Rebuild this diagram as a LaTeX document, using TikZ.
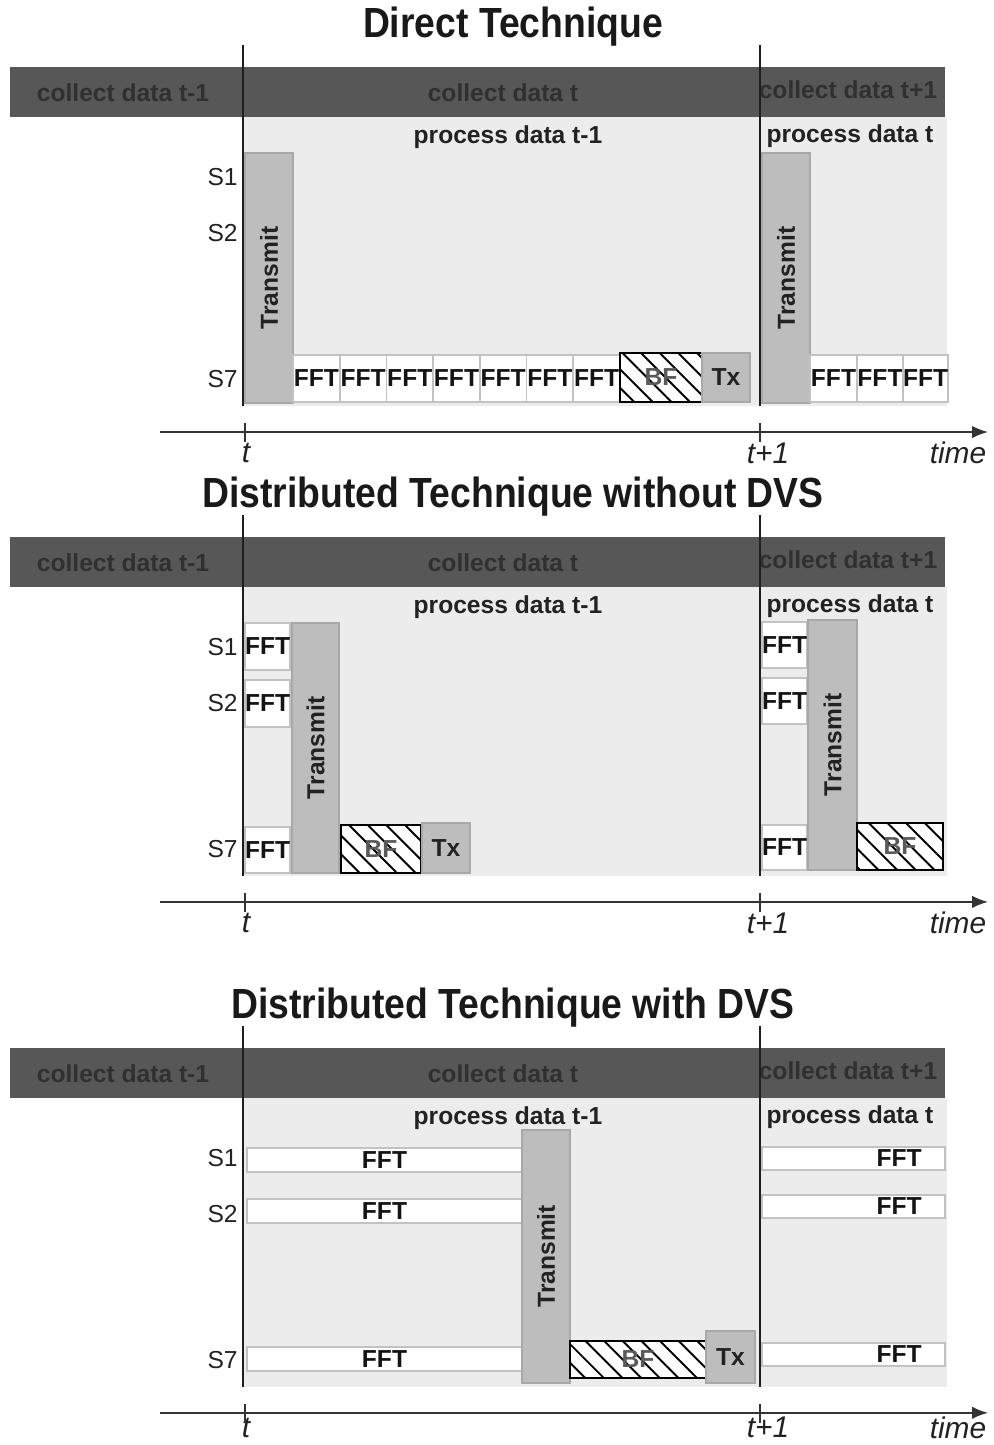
\documentclass[tikz,border=0pt]{standalone}
\usepackage{fontspec}
\setmainfont{Liberation Sans}
\usepackage{graphicx}
\usetikzlibrary{arrows.meta,patterns.meta}
\definecolor{bardark}{HTML}{575757}
\definecolor{bartxt}{HTML}{303030}
\definecolor{lightbg}{HTML}{ECECEC}
\definecolor{trfill}{HTML}{BDBDBD}
\definecolor{trdraw}{HTML}{A8A8A8}
\definecolor{fftdraw}{HTML}{C2C2C2}
\definecolor{inktxt}{HTML}{222222}
\tikzset{
  bx/.style={anchor=north west, inner sep=0pt, outer sep=0pt},
  boldf/.style={font=\bfseries\fontsize{14}{16}\selectfont},
  barbox/.style={bx, fill=bardark},
  lightbox/.style={bx, fill=lightbg},
  fftbox/.style={bx, boldf, fill=white, draw=fftdraw, line width=1pt, text=black!92},
  trbox/.style={bx, boldf, fill=trfill, draw=trdraw, line width=1pt, text=inktxt},
  bfbox/.style={bx, boldf, preaction={fill=white}, pattern={Lines[angle=135,distance=7.5pt,line width=1.1pt]}, draw=black, line width=1.4pt, text=black!65},
  bartext/.style={boldf, text=bartxt, inner sep=0pt},
  proctext/.style={boldf, text=inktxt, inner sep=0pt},
  slabel/.style={font=\fontsize{14}{16}\selectfont, text=inktxt, anchor=east, inner sep=0pt},
  fftlabel/.style={boldf, text=black!92, inner sep=0pt},
  titletext/.style={font=\bfseries\fontsize{24}{28}\selectfont, text=black!90, inner sep=0pt},
  axislabel/.style={font=\itshape\fontsize{17}{20}\selectfont, text=inktxt, inner sep=0pt},
  vline/.style={line width=1.4pt, draw=black!88},
  axisline/.style={line width=0.9pt, draw=black!80, -{Latex[length=9pt,width=7pt]}},
  tickline/.style={line width=0.7pt, draw=black!80}
}
\newcommand{\boxnode}[7]{\node[#2, minimum width={(#5-#3)*0.02cm}, minimum height={(#6-#4)*0.02cm}] (#1) at (#3,#4) {#7};}
% #1 prefix, #2 title, #3 axis-label y
\newcommand{\panelbase}[3]{%
  \node[titletext] (#1title) at (513,27) {\scalebox{0.885}[1]{#2}};
  \boxnode{#1bar}{barbox}{10}{67}{945}{117}{}
  \boxnode{#1light}{lightbox}{243}{117}{947}{406}{}
  \node[bartext] (#1ca) at (123,93) {collect data t-1};
  \node[bartext] (#1cb) at (503,93) {collect data t};
  \node[bartext] (#1cc) at (848,90) {collect data t+1};
  \node[proctext] (#1pa) at (508,137) {process data t-1};
  \node[proctext] (#1pb) at (850,136) {process data t};
  \node[slabel] (#1s1) at (238,177) {S1};
  \node[slabel] (#1s2) at (238,233) {S2};
  \node[slabel] (#1s7) at (238,379) {S7};
  \coordinate (#1va) at (243,45);
  \coordinate (#1vb) at (243,406);
  \coordinate (#1vc) at (760,45);
  \coordinate (#1vd) at (760,406);
  \coordinate (#1ax0) at (160,432);
  \coordinate (#1ax1) at (988,432);
  \coordinate (#1ta) at (245,423);
  \coordinate (#1tb) at (245,442);
  \coordinate (#1tc) at (760,423);
  \coordinate (#1td) at (760,442);
  \node[axislabel] (#1lt) at (246,#3) {t};
  \node[axislabel] (#1lt1) at (768,#3) {t+1};
  \node[axislabel] (#1ltime) at (958,#3) {time};
}
\newcommand{\panellines}[1]{%
  \draw[vline] (#1va) -- (#1vb);
  \draw[vline] (#1vc) -- (#1vd);
  \draw[axisline] (#1ax0) -- (#1ax1);
  \draw[tickline] (#1ta) -- (#1tb);
  \draw[tickline] (#1tc) -- (#1td);
}
\begin{document}
\begin{tikzpicture}[x=0.02cm,y=-0.02cm]
\useasboundingbox (0,0) rectangle (994,1445);
% ---------------- Panel 1 ----------------
\begin{scope}
\panelbase{p1}{Direct Technique}{453}
\boxnode{p1trA}{trbox}{245}{153}{293}{403}{\rotatebox{90}{Transmit}}
\foreach \i [evaluate=\i as \xa using 293+46.71*\i, evaluate=\i as \xb using 293+46.71*(\i+1)] in {0,...,6}
  {\boxnode{p1f\i}{fftbox}{\xa}{355}{\xb}{402}{FFT}}
\boxnode{p1bf}{bfbox}{620}{353}{702}{402}{BF}
\boxnode{p1tx}{trbox}{702}{353}{750}{402}{Tx}
\boxnode{p1trB}{trbox}{762}{153}{810}{403}{\rotatebox{90}{Transmit}}
\boxnode{p1g0}{fftbox}{810}{355}{857}{402}{FFT}
\boxnode{p1g1}{fftbox}{857}{355}{903}{402}{FFT}
\boxnode{p1g2}{fftbox}{903}{355}{948}{402}{FFT}
\panellines{p1}
\end{scope}
% ---------------- Panel 2 ----------------
\begin{scope}[yshift=-9.4cm]
\panelbase{p2}{Distributed Technique without DVS}{453}
\boxnode{p2fa}{fftbox}{245}{153}{290}{200}{FFT}
\boxnode{p2fb}{fftbox}{245}{210}{290}{257}{FFT}
\boxnode{p2fc}{fftbox}{245}{357}{290}{403}{FFT}
\boxnode{p2trA}{trbox}{292}{153}{339}{403}{\rotatebox{90}{Transmit}}
\boxnode{p2bf}{bfbox}{341}{355}{421}{403}{BF}
\boxnode{p2tx}{trbox}{422}{353}{470}{403}{Tx}
\boxnode{p2ga}{fftbox}{762}{152}{807}{198}{FFT}
\boxnode{p2gb}{fftbox}{762}{208}{807}{254}{FFT}
\boxnode{p2gc}{fftbox}{762}{355}{807}{400}{FFT}
\boxnode{p2trB}{trbox}{808}{150}{857}{400}{\rotatebox{90}{Transmit}}
\boxnode{p2bfB}{bfbox}{857}{353}{943}{400}{BF}
\panellines{p2}
\end{scope}
% ---------------- Panel 3 ----------------
\begin{scope}[yshift=-19.62cm]
\panelbase{p3}{Distributed Technique with DVS}{447}
\boxnode{p3fa}{fftbox}{247}{167}{522}{191}{FFT}
\boxnode{p3fb}{fftbox}{247}{218}{522}{242}{FFT}
\boxnode{p3fc}{fftbox}{247}{366}{522}{390}{FFT}
\boxnode{p3trA}{trbox}{522}{149}{570}{402}{\rotatebox{90}{Transmit}}
\boxnode{p3bf}{bfbox}{570}{360}{706}{397}{BF}
\boxnode{p3tx}{trbox}{706}{350}{755}{402}{Tx}
\boxnode{p3ga}{fftbox}{762}{166}{945}{189}{}
\boxnode{p3gb}{fftbox}{762}{214}{945}{237}{}
\boxnode{p3gc}{fftbox}{762}{362}{945}{385}{}
\node[fftlabel, anchor=east] (p3gal) at ([xshift=-0.46cm]p3ga.east) {FFT};
\node[fftlabel, anchor=east] (p3gbl) at ([xshift=-0.46cm]p3gb.east) {FFT};
\node[fftlabel, anchor=east] (p3gcl) at ([xshift=-0.46cm]p3gc.east) {FFT};
\panellines{p3}
\end{scope}
\end{tikzpicture}
\end{document}
